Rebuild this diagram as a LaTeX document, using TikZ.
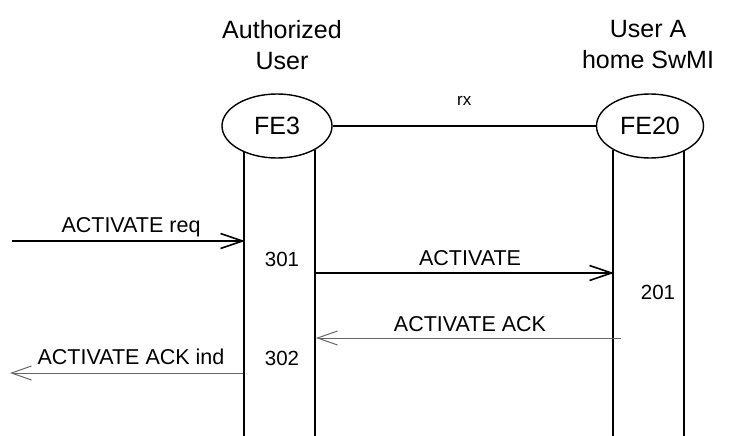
\documentclass[tikz,border=0pt]{standalone}
\usepackage{fontspec}
\setmainfont{Liberation Sans}
\usetikzlibrary{shapes.geometric,arrows.meta}
\begin{document}
\begin{tikzpicture}[x=1pt,y=-1pt,
  fe/.style={ellipse,draw,line width=1.4pt,fill=white,minimum width=110pt,minimum height=64pt,inner sep=0pt,font=\fontsize{25}{25}\selectfont},
  head/.style={align=center,font=\fontsize{25}{31}\selectfont},
  life/.style={line width=1.5pt},
  req/.style={line width=1.6pt,-{Straight Barb[length=22pt,width=15pt,line width=1.6pt]}},
  resp/.style={line width=1pt,draw=black!60,-{Straight Barb[length=20pt,width=14pt,line width=1pt]}},
  msg/.style={font=\fontsize{21.5}{21.5}\selectfont},
  num/.style={font=\fontsize{20.5}{20.5}\selectfont}]
\useasboundingbox (0,0) rectangle (729,436);
% lifelines
\coordinate (l3t) at (244,150); \coordinate (l3b) at (244,436);
\coordinate (r3t) at (315,150); \coordinate (r3b) at (315,436);
\coordinate (l20t) at (613,150); \coordinate (l20b) at (613,436);
\coordinate (r20t) at (684,150); \coordinate (r20b) at (684,436);
\draw[life] (l3t) -- (l3b);
\draw[life] (r3t) -- (r3b);
\draw[life] (l20t) -- (l20b);
\draw[life] (r20t) -- (r20b);
\node[fe] (fe3) at (277,126) {FE3};
\node[fe,minimum width=107pt] (fe20) at (650,126) {FE20};
\draw[line width=1.4pt] (fe3) -- node[above=16pt,font=\fontsize{17}{17}\selectfont] (rx) {rx} (fe20);
\node[head] (hA) at (282,45) {Authorized\\User};
\node[head] (hB) at (648,45) {User A\\home SwMI};
% messages
\coordinate (s1) at (12,241); \coordinate (e1) at (245,241);
\draw[req] (s1) -- (e1);
\node[msg] (m1) at (131,227) {ACTIVATE req};
\node[num] (n301) at (282,259) {301};
\coordinate (s2) at (315,273); \coordinate (e2) at (614,273);
\draw[req] (s2) -- (e2);
\node[msg] (m2) at (470,258) {ACTIVATE};
\node[num] (n201) at (658,292) {201};
\coordinate (s3) at (621,338); \coordinate (e3) at (316,338);
\draw[resp] (s3) -- (e3);
\node[msg] (m3) at (470,324) {ACTIVATE ACK};
\coordinate (s4) at (243,373); \coordinate (e4) at (10,373);
\draw[resp] (s4) -- (e4);
\node[msg] (m4) at (131,357) {ACTIVATE ACK ind};
\node[num] (n302) at (282,358) {302};
\end{tikzpicture}
\end{document}
